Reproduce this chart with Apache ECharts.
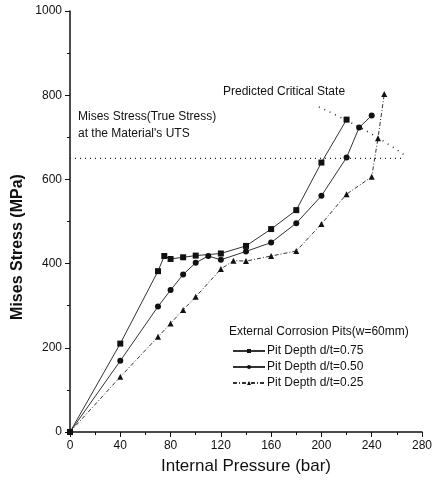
<!DOCTYPE html>
<html>
<head>
<meta charset="utf-8">
<script src="https://cdn.jsdelivr.net/npm/echarts@6/dist/echarts.min.js"></script>
<style>
  html, body { margin: 0; padding: 0; background: #fff; }
  #root { width: 435px; height: 491px; }
</style>
</head>
<body>
<div id="root"></div>
<script>
// Internal pressure (bar) vs Mises stress (MPa)
var pit075 = [[0, 0], [40, 210], [70, 382], [75, 418], [80, 411], [90, 415], [100, 419], [120, 424], [140, 442], [160, 482], [180, 527], [200, 640], [220, 742]]
var pit050 = [[0, 0], [40, 169], [70, 298], [80, 337], [90, 374], [100, 402], [110, 418], [120, 409], [140, 429], [160, 450], [180, 496], [200, 561], [220, 652], [230, 723], [240, 752]]
var pit025 = [[0, 0], [40, 131], [70, 226], [80, 258], [90, 290], [100, 321], [120, 387], [130, 407], [140, 406], [160, 418], [180, 430], [200, 494], [220, 565], [240, 606], [245, 698], [250, 803]]
var utsLine = [[0, 650], [266, 650]]
var criticalLine = [[198, 772], [222, 737], [246, 697], [266, 658]]
var xTicks = [0, 40, 80, 120, 160, 200, 240, 280]
var yTicks = [0, 200, 400, 600, 800, 1000]
var seriesNames = ['Pit Depth d/t=0.75', 'Pit Depth d/t=0.50', 'Pit Depth d/t=0.25']

var chart = echarts.init(document.getElementById('root'))
var font = 'Liberation Sans, Arial, sans-serif'
var ink = '#111'

var mk = (name, data, symbol, dash) => ({
  name, type: 'line', data, symbol, symbolSize: 6,
  itemStyle: { color: ink },
  lineStyle: { color: '#333', width: 1, type: dash },
  animation: false, z: 3
})

var option = {
  animation: false,
  textStyle: { fontFamily: font },
  grid: { left: 70, right: 11, top: 11, bottom: 59 },
  xAxis: {
    type: 'value', min: xTicks[0], max: xTicks[xTicks.length - 1], interval: 40,
    splitLine: { show: false },
    axisLine: { lineStyle: { color: ink, width: 1.5 } },
    axisTick: { length: 5, lineStyle: { color: ink } },
    minorTick: { show: true, splitNumber: 2, length: 3, lineStyle: { color: ink } },
    axisLabel: { color: ink, fontSize: 12, margin: 8 }
  },
  yAxis: {
    type: 'value', min: yTicks[0], max: yTicks[yTicks.length - 1], interval: 200,
    splitLine: { show: false },
    axisLine: { show: true, lineStyle: { color: ink, width: 1.5 } },
    axisTick: { show: true, length: 5, lineStyle: { color: ink } },
    minorTick: { show: true, splitNumber: 2, length: 3, lineStyle: { color: ink } },
    axisLabel: { color: ink, fontSize: 12, margin: 8, formatter: v => String(v) }
  },
  legend: {
    data: seriesNames, orient: 'vertical', left: 227, top: 340,
    itemWidth: 32, itemHeight: 5, itemGap: 4,
    textStyle: { color: ink, fontSize: 12, fontFamily: font, padding: [0, 0, 0, -3] }
  },
  graphic: [
    { type: 'text', left: 78, top: 108, style: { text: 'Mises Stress(True Stress)\nat the Material\'s UTS', fill: ink, font: '12px ' + font, lineHeight: 17 } },
    { type: 'text', left: 223, top: 86, style: { text: 'Predicted Critical State', fill: ink, font: '12px ' + font } },
    { type: 'text', left: 229, top: 326, style: { text: 'External Corrosion Pits(w=60mm)', fill: ink, font: '12px ' + font } },
    { type: 'text', x: 246, y: 466, style: { text: 'Internal Pressure (bar)', fill: ink, font: '17px ' + font, align: 'center', verticalAlign: 'middle' } },
    { type: 'text', x: 18, y: 247, rotation: Math.PI / 2, style: { text: 'Mises Stress (MPa)', fill: ink, font: 'bold 16px ' + font, align: 'center', verticalAlign: 'middle' } }
  ],
  series: [
    mk(seriesNames[0], pit075, 'rect', 'solid'),
    mk(seriesNames[1], pit050, 'circle', 'solid'),
    mk(seriesNames[2], pit025, 'triangle', [4, 2, 1, 2]),
    { type: 'line', data: utsLine, symbol: 'none', silent: true, lineStyle: { color: '#222', width: 1.2, type: [1, 4] }, z: 2 },
    { type: 'line', data: criticalLine, symbol: 'none', smooth: true, silent: true, lineStyle: { color: '#222', width: 1.5, type: [1, 5] }, z: 2 }
  ]
}
chart.setOption(option)
</script>
</body>
</html>
